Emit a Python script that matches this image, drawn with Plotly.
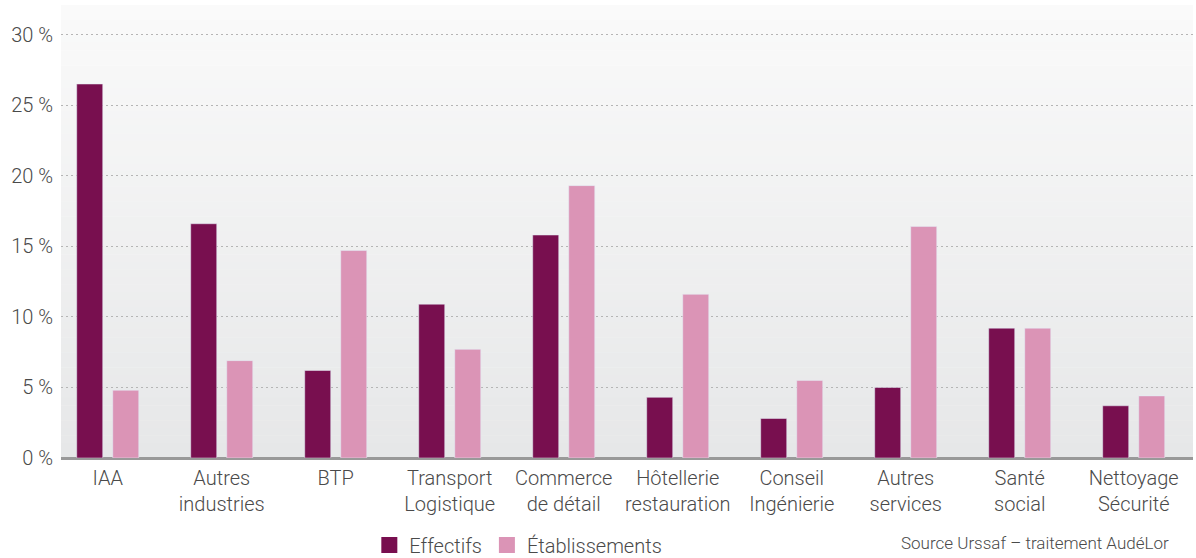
import plotly.graph_objects as go

categories = ["IAA", "Autres<br>industries", "BTP", "Transport<br>Logistique", "Commerce<br>de détail",
              "Hôtellerie<br>restauration", "Conseil<br>Ingénierie", "Autres<br>services", "Santé<br>social",
              "Nettoyage<br>Sécurité"]
effectifs = [26.5, 16.6, 6.2, 10.9, 15.8, 4.3, 2.8, 5.0, 9.2, 3.7]
etablissements = [4.8, 6.9, 14.7, 7.7, 19.3, 11.6, 5.5, 16.4, 9.2, 4.4]
y_ticks = [0, 5, 10, 15, 20, 25, 30]
y_ticktext = ["0 %", "5 %", "10 %", "15 %", "20 %", "25 %", "30 %"]

C_EFF = "#780f4f"
C_ETA = "#db94b6"
FONT = "Roboto"
TXT = "#4a4a4a"

fig = go.Figure()
x = list(range(len(categories)))
fig.add_trace(go.Bar(x=x, y=effectifs, name="Effectifs", marker_color=C_EFF,
                     showlegend=False, hoverinfo="y"))
fig.add_trace(go.Bar(x=x, y=etablissements, name="Établissements", marker_color=C_ETA,
                     showlegend=False, hoverinfo="y"))
# legend entries
fig.add_trace(go.Scatter(x=[None], y=[None], mode="markers", name="Effectifs",
                         marker=dict(symbol="square", size=16, color=C_EFF)))
fig.add_trace(go.Scatter(x=[None], y=[None], mode="markers", name="Établissements",
                         marker=dict(symbol="square", size=16, color=C_ETA)))

# vertical gradient background
n = 60
shapes = []
top = (250, 250, 250)
bot = (230, 231, 232)
for i in range(n):
    t = (i + 0.5) / n
    r = round(top[0] + (bot[0] - top[0]) * t)
    g = round(top[1] + (bot[1] - top[1]) * t)
    b = round(top[2] + (bot[2] - top[2]) * t)
    shapes.append(dict(type="rect", xref="paper", yref="paper", x0=0, x1=1,
                       y0=1 - (i + 1) / n - 0.001, y1=1 - i / n,
                       fillcolor=f"rgb({r},{g},{b})", line=dict(width=0), layer="below"))

fig.update_layout(
    width=1196, height=558,
    margin=dict(l=61, r=3, t=5, b=100, autoexpand=False),
    paper_bgcolor="white",
    plot_bgcolor="rgba(0,0,0,0)",
    barmode="group",
    bargap=0.368,
    bargroupgap=0.278,
    shapes=shapes,
    font=dict(family=FONT, size=20, color=TXT, weight=300),
    showlegend=True,
    legend=dict(orientation="h", x=0.404, xanchor="center",
                yref="container", y=0.0233, yanchor="middle",
                font=dict(size=20, color=TXT, weight=300), bgcolor="rgba(0,0,0,0)",
                itemwidth=30, traceorder="normal"),
    annotations=[dict(text="Source Urssaf – traitement AudéLor", xref="paper", yref="paper",
                      x=0.9806, xanchor="right", y=-0.188, yanchor="middle", showarrow=False,
                      font=dict(size=17, color=TXT, weight=300))],
)
fig.update_xaxes(tickmode="array", tickvals=x, ticktext=categories, range=[-0.41, 9.52],
                 showgrid=False, zeroline=False, showline=False, ticks="",
                 automargin=False, ticklabelstandoff=6,
                 tickfont=dict(size=20, color=TXT, weight=300))
fig.update_yaxes(range=[0, 32.1], tickvals=y_ticks, ticktext=y_ticktext,
                 showgrid=True, gridcolor="#b5b5b5", griddash="2px,3px", gridwidth=1,
                 zeroline=True, zerolinecolor="#999999", zerolinewidth=3,
                 showline=False, ticks="", automargin=False, ticklabelstandoff=7,
                 tickfont=dict(size=20, color=TXT, weight=300))

fig.write_html("out.html", config={"displayModeBar": False},
               post_script="document.body.style.margin='0';document.body.style.overflow='hidden';")
